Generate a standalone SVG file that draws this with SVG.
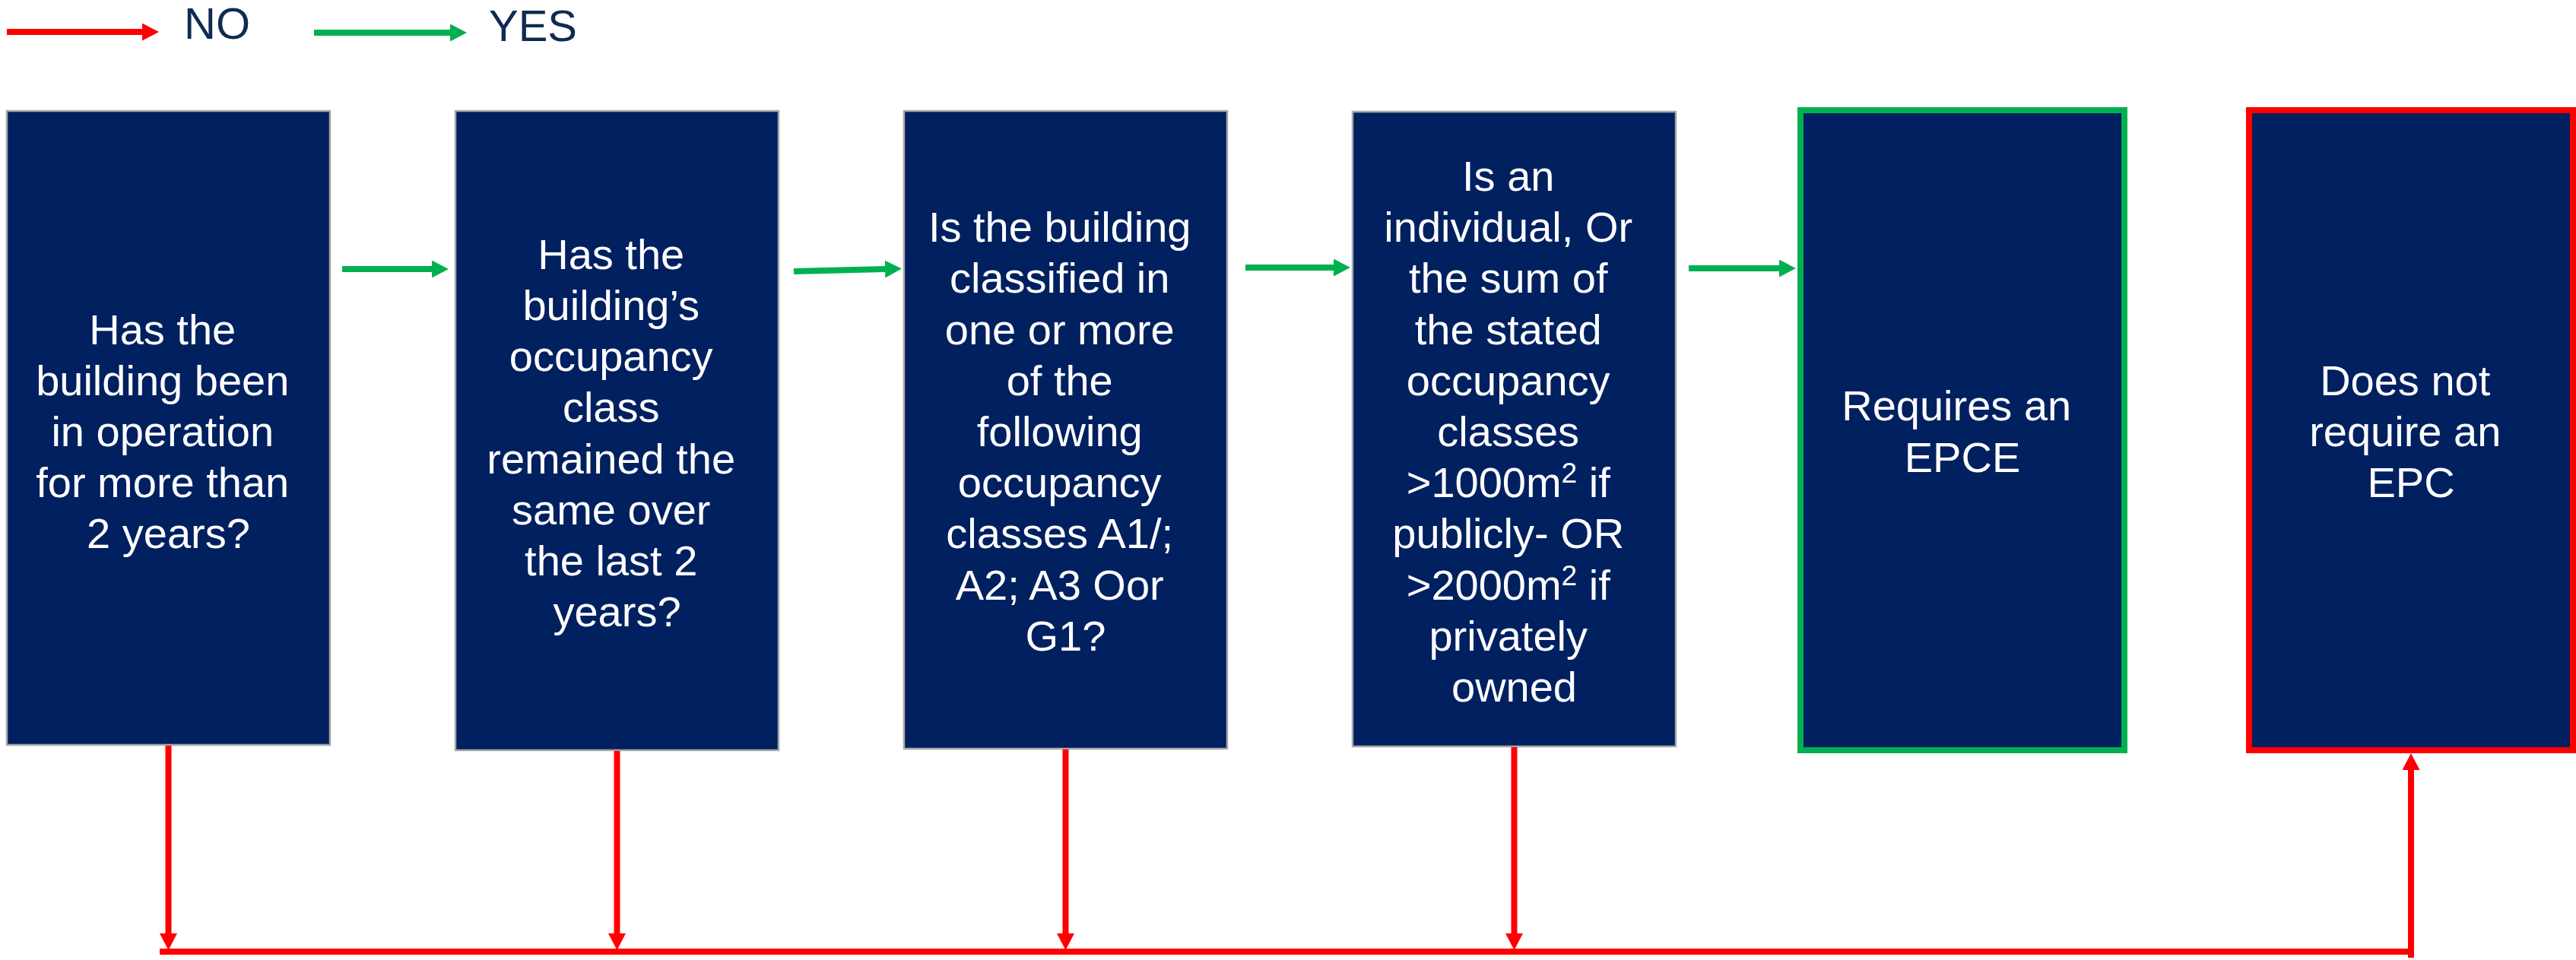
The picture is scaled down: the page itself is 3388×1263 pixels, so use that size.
<svg xmlns="http://www.w3.org/2000/svg" width="3388" height="1263" viewBox="0 0 3388 1263">
  <style>
    .box { fill: #002060; stroke: #a6a6a6; stroke-width: 2.5; }
    .yesbox { fill: #002060; stroke: #00b050; stroke-width: 8; }
    .nobox { fill: #002060; stroke: #ff0000; stroke-width: 8; }
    .label { font-family: "Liberation Sans", Arial, sans-serif; font-size: 56px; fill: #ffffff; text-anchor: middle; }
    .legend { font-family: "Liberation Sans", Arial, sans-serif; font-size: 58px; fill: #0f2b52; }
    .yes { stroke: #00b050; stroke-width: 8; fill: none; }
    .no { stroke: #ff0000; stroke-width: 8; fill: none; }
  </style>
  <defs>
    <marker id="headGreen" markerUnits="userSpaceOnUse" markerWidth="22" markerHeight="23" refX="0" refY="11.5" orient="auto">
      <path d="M0,0 L22,11.5 L0,23 z" fill="#00b050"/>
    </marker>
    <marker id="headRed" markerUnits="userSpaceOnUse" markerWidth="22" markerHeight="23" refX="0" refY="11.5" orient="auto">
      <path d="M0,0 L22,11.5 L0,23 z" fill="#ff0000"/>
    </marker>
  </defs>

  <!-- legend -->
  <g id="legend">
    <line class="no" x1="9" y1="42" x2="187" y2="42" marker-end="url(#headRed)"/>
    <text class="legend" x="242" y="51">NO</text>
    <line class="yes" x1="413" y1="43" x2="592" y2="43" marker-end="url(#headGreen)"/>
    <text class="legend" x="643" y="54">YES</text>
  </g>

  <!-- decision boxes -->
  <g id="q-operation">
    <rect class="box" x="9" y="146" width="425" height="834"/>
    <text class="label">
      <tspan x="221.5" y="452.6">Has the</tspan>
      <tspan x="221.5" y="519.8">building been</tspan>
      <tspan x="221.5" y="587">in operation</tspan>
      <tspan x="221.5" y="654.2">for more than</tspan>
      <tspan x="221.5" y="721.4">2 years?</tspan>
    </text>
  </g>

  <g id="q-occupancy-same">
    <rect class="box" x="599" y="146" width="425" height="841"/>
    <text class="label">
      <tspan x="811.5" y="353.8">Has the</tspan>
      <tspan x="811.5" y="421">building’s</tspan>
      <tspan x="811.5" y="488.2">occupancy</tspan>
      <tspan x="811.5" y="555.4">class</tspan>
      <tspan x="811.5" y="622.6">remained the</tspan>
      <tspan x="811.5" y="689.8">same over</tspan>
      <tspan x="811.5" y="757">the last 2</tspan>
      <tspan x="811.5" y="824.2">years?</tspan>
    </text>
  </g>

  <g id="q-classes">
    <rect class="box" x="1189" y="146" width="425" height="839"/>
    <text class="label">
      <tspan x="1401.5" y="318.2">Is the building</tspan>
      <tspan x="1401.5" y="385.4">classified in</tspan>
      <tspan x="1401.5" y="452.6">one or more</tspan>
      <tspan x="1401.5" y="519.8">of the</tspan>
      <tspan x="1401.5" y="587">following</tspan>
      <tspan x="1401.5" y="654.2">occupancy</tspan>
      <tspan x="1401.5" y="721.4">classes A1/;</tspan>
      <tspan x="1401.5" y="788.6">A2; A3 Oor</tspan>
      <tspan x="1401.5" y="855.8">G1?</tspan>
    </text>
  </g>

  <g id="q-floor-area">
    <rect class="box" x="1779" y="147" width="425" height="835"/>
    <text class="label">
      <tspan x="1991.5" y="251">Is an</tspan>
      <tspan x="1991.5" y="318.2">individual, Or</tspan>
      <tspan x="1991.5" y="385.4">the sum of</tspan>
      <tspan x="1991.5" y="452.6">the stated</tspan>
      <tspan x="1991.5" y="519.8">occupancy</tspan>
      <tspan x="1991.5" y="587">classes</tspan>
      <tspan x="1991.5" y="654.2">&gt;1000m<tspan font-size="37" dy="-19">2</tspan><tspan dy="19"> if</tspan></tspan>
      <tspan x="1991.5" y="721.4">publicly- OR</tspan>
      <tspan x="1991.5" y="788.6">&gt;2000m<tspan font-size="37" dy="-19">2</tspan><tspan dy="19"> if</tspan></tspan>
      <tspan x="1991.5" y="855.8">privately</tspan>
      <tspan x="1991.5" y="923">owned</tspan>
    </text>
  </g>

  <!-- outcomes -->
  <g id="r-requires">
    <rect class="yesbox" x="2368" y="145" width="426" height="842"/>
    <text class="label">
      <tspan x="2581" y="553.4">Requires an</tspan>
      <tspan x="2581" y="620.6">EPCE</tspan>
    </text>
  </g>

  <g id="r-not-required">
    <rect class="nobox" x="2958" y="145" width="426" height="842"/>
    <text class="label">
      <tspan x="3171" y="519.8">Does not</tspan>
      <tspan x="3171" y="587">require an</tspan>
      <tspan x="3171" y="654.2">EPC</tspan>
    </text>
  </g>

  <!-- connectors -->
  <g id="connectors">
    <!-- yes path -->
    <line class="yes" x1="450" y1="354" x2="568" y2="354" marker-end="url(#headGreen)"/>
    <line class="yes" x1="1044" y1="357" x2="1164" y2="354" marker-end="url(#headGreen)"/>
    <line class="yes" x1="1638" y1="352" x2="1754" y2="352" marker-end="url(#headGreen)"/>
    <line class="yes" x1="2221" y1="353" x2="2340" y2="353" marker-end="url(#headGreen)"/>
    <!-- no path -->
    <line class="no" x1="221.5" y1="981" x2="221.5" y2="1228" marker-end="url(#headRed)"/>
    <line class="no" x1="811.5" y1="988" x2="811.5" y2="1228" marker-end="url(#headRed)"/>
    <line class="no" x1="1401.5" y1="986" x2="1401.5" y2="1228" marker-end="url(#headRed)"/>
    <line class="no" x1="1991.5" y1="983" x2="1991.5" y2="1228" marker-end="url(#headRed)"/>
    <line class="no" x1="210" y1="1252" x2="3175" y2="1252"/>
    <line class="no" x1="3171" y1="1260" x2="3171" y2="1013" marker-end="url(#headRed)"/>
  </g>
</svg>
